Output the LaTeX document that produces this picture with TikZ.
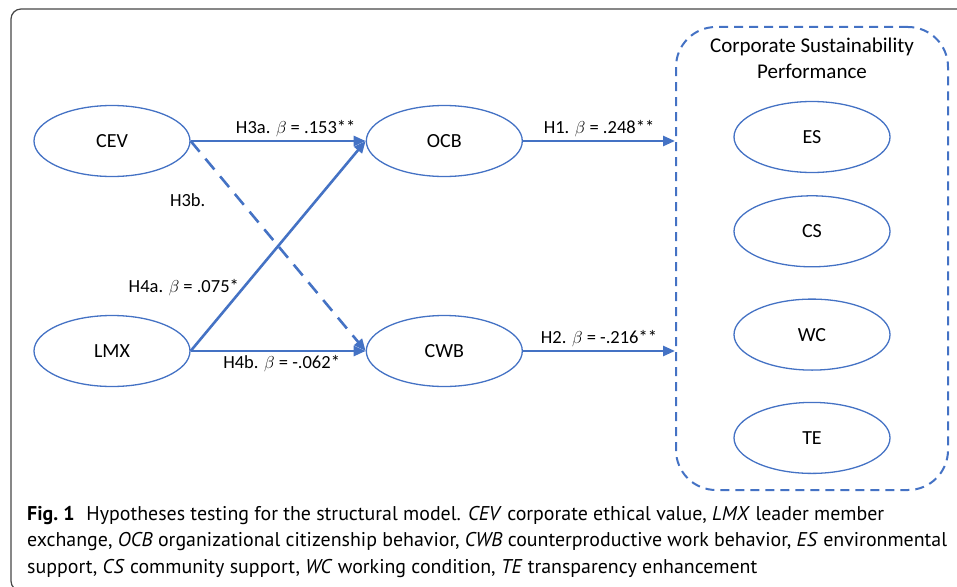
\documentclass[tikz,border=0pt]{standalone}
\usepackage{fontspec}
\setmainfont{Carlito}
\newfontfamily\captfont{PT Sans}
\usetikzlibrary{shapes.geometric, arrows.meta, positioning}
\definecolor{pathblue}{RGB}{68,114,196}
\definecolor{framegray}{RGB}{70,70,70}

\begin{document}
\begin{tikzpicture}[
    x=1pt, y=-1pt,
    node distance=175pt,
    latent/.style={ellipse, draw=pathblue, line width=1.3pt, minimum width=156pt, minimum height=71pt, inner sep=0pt, font=\fontsize{20}{22}\selectfont},
    group/.style={draw=pathblue, dash pattern=on 9pt off 6pt, line width=2pt, rounded corners=40pt, minimum width=272pt, minimum height=463pt},
    effect/.style={-{Triangle[length=12pt,width=10pt]}, draw=pathblue, line width=2.6pt},
    coeff/.style={font=\fontsize{18.5}{20}\selectfont, inner sep=3pt}
]

% frame
\useasboundingbox (0,0) rectangle (957,586);
\begin{scope}
\clip (0,0) rectangle (957,586);
\draw[framegray, line width=1.2pt, rounded corners=10pt] (11,9) rectangle (990,591);
\end{scope}

% predictors and mediators
\node[latent] (cev) at (112,141) {CEV};
\node[latent, right=of cev] (ocb) {OCB};
\node[latent] (lmx) at (112,351) {LMX};
\node[latent, right=of lmx] (cwb) {CWB};

% corporate sustainability performance
\node[group] (csp) at (812,258.5) {};
\node[font=\fontsize{21}{26}\selectfont, align=center] (csptitle) at (812,58) {Corporate Sustainability\\Performance};
\node[latent] (es) at (812,137) {ES};
\node[latent, below=22pt of es] (cs) {CS};
\node[latent, below=31pt of cs] (wc) {WC};
\node[latent, below=31pt of wc] (te) {TE};

% paths
\draw[effect] (cev.east) -- node[coeff, above, pos=0.6] {H3a. $\beta$ = .153**} (ocb.west);
\draw[effect, dash pattern=on 14pt off 9pt] (cev.east) -- node[coeff, pos=0.28, left=30pt] {H3b.} (cwb.west);
\draw[effect] (lmx.east) -- node[coeff, pos=0.3, left] {H4a. $\beta$ = .075*} (ocb.west);
\draw[effect] (lmx.east) -- node[coeff, below, pos=0.52] {H4b. $\beta$ = -.062*} (cwb.west);
\draw[effect] (ocb.east) -- node[coeff, above] {H1. $\beta$ = .248**} (ocb.east -| csp.west);
\draw[effect] (cwb.east) -- node[coeff, above] {H2. $\beta$ = -.216**} (cwb.east -| csp.west);

% caption
\node[anchor=north west, inner sep=0pt, align=left, font=\captfont\fontsize{19.9}{26.5}\selectfont] (caption) at (27,506) {\textbf{Fig.~1}\hspace{0.6em}Hypotheses testing for the structural model. \textit{CEV} corporate ethical value, \textit{LMX} leader member\\
exchange, \textit{OCB} organizational citizenship behavior, \textit{CWB} counterproductive work behavior, \textit{ES} environmental\\
support, \textit{CS} community support, \textit{WC} working condition, \textit{TE} transparency enhancement};

\end{tikzpicture}
\end{document}
